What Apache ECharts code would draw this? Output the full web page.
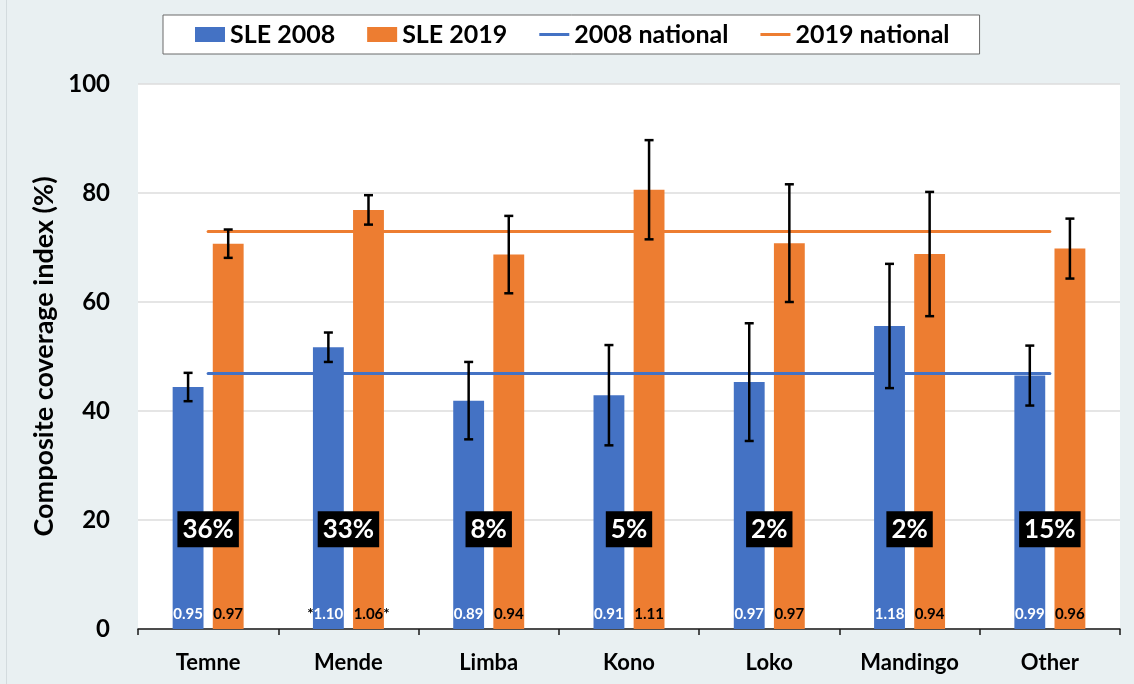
<!DOCTYPE html>
<html>
<head>
<meta charset="utf-8">
<script src="https://cdn.jsdelivr.net/npm/echarts@6/dist/echarts.min.js"></script>
<style>
  html, body { margin: 0; padding: 0; background: #E9F0F2; }
  #chart { width: 1134px; height: 684px; }
</style>
</head>
<body>
<div id="chart"></div>
<script>
// Ethnic groups on the x axis
const categories = ['Temne', 'Mende', 'Limba', 'Kono', 'Loko', 'Mandingo', 'Other'];

// Composite coverage index (%) per survey
const cov2008 = [44.4, 51.7, 41.9, 42.9, 45.3, 55.6, 46.5];
const cov2019 = [70.7, 76.9, 68.7, 80.6, 70.8, 68.8, 69.8];

// Half-width of the confidence interval
const err2008 = [2.6, 2.7, 7.1, 9.2, 10.8, 11.4, 5.5];
const err2019 = [2.6, 2.7, 7.1, 9.1, 10.8, 11.4, 5.5];

// National averages
const national2008 = 47.0;
const national2019 = 72.9;

// Ratio to the national value, with significance flags
const ratio2008 = [0.95, 1.10, 0.89, 0.91, 0.97, 1.18, 0.99];
const ratio2019 = [0.97, 1.06, 0.94, 1.11, 0.97, 0.94, 0.96];
const sig2008 = [false, true, false, false, false, false, false];
const sig2019 = [false, true, false, false, false, false, false];

// Share of the population in each group (%)
const sharePct = [36, 33, 8, 5, 2, 2, 15];

// Axis ticks
const yTicks = { min: 0, max: 100, interval: 20 };

const FONT = 'Lato, "Open Sans", sans-serif';
const BLUE = '#4472C4';
const ORANGE = '#ED7D31';
const BAR_OFFSET = 0.143; // bar centre offset as a share of the category width
const SHARE_Y = 18.3;     // vertical level of the population share boxes
const LINE_ICON = 'path://M0,0 L30,0 L30,3 L0,3 Z';

const chart = echarts.init(document.getElementById('chart'));

function errorBars(name, values, errs, side) {
  return {
    type: 'custom',
    name: name,
    z: 5,
    silent: true,
    data: values.map((v, i) => [i, v - errs[i], v + errs[i]]),
    encode: { x: 0, y: [1, 2] },
    renderItem: function (params, api) {
      const i = api.value(0);
      const lo = api.coord([i, api.value(1)]);
      const hi = api.coord([i, api.value(2)]);
      const cw = api.size([1, 0])[0];
      const x = lo[0] + side * cw * BAR_OFFSET;
      const cap = 4.5;
      const st = { stroke: '#000', lineWidth: 2.5 };
      return {
        type: 'group',
        children: [
          { type: 'line', shape: { x1: x, y1: hi[1], x2: x, y2: lo[1] }, style: st },
          { type: 'line', shape: { x1: x - cap, y1: hi[1], x2: x + cap, y2: hi[1] }, style: st },
          { type: 'line', shape: { x1: x - cap, y1: lo[1], x2: x + cap, y2: lo[1] }, style: st }
        ]
      };
    }
  };
}

function ratioLabel(ratios, flags, starLeft, color) {
  const base = { fontFamily: FONT, fontSize: 15, fontWeight: 'bold' };
  return Object.assign({
    show: true,
    position: 'insideBottom',
    distance: 7,
    color: color,
    formatter: function (p) {
      const txt = ratios[p.dataIndex].toFixed(2);
      if (!flags[p.dataIndex]) return txt;
      return starLeft ? '{s|*}' + txt + '{h|*}' : '{h|*}' + txt + '{s|*}';
    },
    rich: {
      s: Object.assign({ color: '#000' }, base),
      h: Object.assign({ color: 'rgba(0,0,0,0)' }, base)
    }
  }, base);
}

function nationalLine(name, value, color) {
  return {
    type: 'line',
    name: name,
    data: [],
    symbol: 'none',
    lineStyle: { color: color, width: 3 },
    itemStyle: { color: color },
    z: 6,
    markLine: {
      silent: true,
      symbol: 'none',
      label: { show: false },
      lineStyle: { color: color, width: 3, type: 'solid', cap: 'round' },
      data: [[{ coord: [0, value] }, { coord: [categories.length - 1, value] }]]
    }
  };
}

const option = {
  backgroundColor: '#E9F0F2',
  animation: false,
  textStyle: { fontFamily: FONT },
  graphic: [
    { type: 'line', shape: { x1: 6.5, y1: 0, x2: 6.5, y2: 684 }, style: { stroke: '#D3DBDE', lineWidth: 1 } }
  ],
  legend: {
    top: 15,
    left: 163,
    padding: [7, 30, 7, 32],
    backgroundColor: '#fff',
    borderColor: '#6b6b6b',
    borderWidth: 1,
    borderRadius: 0,
    itemWidth: 30,
    itemHeight: 15,
    itemGap: 32,
    symbolKeepAspect: true,
    textStyle: { fontFamily: FONT, fontSize: 25, fontWeight: 'bold', color: '#000' },
    data: [
      { name: 'SLE 2008', icon: 'rect' },
      { name: 'SLE 2019', icon: 'rect' },
      { name: '2008 national', icon: LINE_ICON, itemStyle: { color: BLUE } },
      { name: '2019 national', icon: LINE_ICON, itemStyle: { color: ORANGE } }
    ]
  },
  grid: {
    left: 138, right: 14, top: 84, bottom: 55,
    show: true, backgroundColor: '#fff', borderWidth: 0
  },
  xAxis: {
    type: 'category',
    data: categories,
    axisLine: { show: true, lineStyle: { color: '#1a1a1a', width: 1.5 } },
    axisTick: { show: true, length: 6, lineStyle: { color: '#1a1a1a', width: 1.5 } },
    axisLabel: { margin: 23, fontFamily: FONT, fontSize: 22, fontWeight: 'bold', color: '#000' }
  },
  yAxis: {
    type: 'value',
    min: yTicks.min,
    max: yTicks.max,
    interval: yTicks.interval,
    name: 'Composite coverage index (%)',
    nameLocation: 'middle',
    nameGap: 75,
    nameTextStyle: { fontFamily: FONT, fontSize: 27, fontWeight: 'bold', color: '#000' },
    axisLine: { show: false },
    axisTick: { show: false },
    axisLabel: { margin: 28, fontFamily: FONT, fontSize: 24, fontWeight: 'bold', color: '#000' },
    splitLine: { lineStyle: { color: '#DCDCDC', width: 1.5 } }
  },
  series: [
    {
      type: 'bar',
      name: 'SLE 2008',
      data: cov2008,
      barWidth: '22%',
      barGap: '30%',
      itemStyle: { color: BLUE },
      label: ratioLabel(ratio2008, sig2008, true, '#fff')
    },
    {
      type: 'bar',
      name: 'SLE 2019',
      data: cov2019,
      barWidth: '22%',
      barGap: '30%',
      itemStyle: { color: ORANGE },
      label: ratioLabel(ratio2019, sig2019, false, '#000')
    },
    errorBars('SLE 2008 CI', cov2008, err2008, -1),
    errorBars('SLE 2019 CI', cov2019, err2019, 1),
    nationalLine('2008 national', national2008, BLUE),
    nationalLine('2019 national', national2019, ORANGE),
    {
      type: 'scatter',
      name: 'Population share',
      silent: true,
      z: 8,
      symbolSize: 1,
      itemStyle: { color: 'rgba(0,0,0,0)', opacity: 1 },
      data: sharePct.map((p, i) => [i, SHARE_Y]),
      label: {
        show: true,
        position: 'inside',
        formatter: function (p) { return sharePct[p.dataIndex] + '%'; },
        backgroundColor: '#000',
        color: '#fff',
        opacity: 1,
        textBorderWidth: 0,
        fontFamily: FONT,
        fontSize: 26,
        fontWeight: 'bold',
        padding: [6, 5, 4, 5]
      }
    }
  ]
};

chart.setOption(option);
</script>
</body>
</html>
